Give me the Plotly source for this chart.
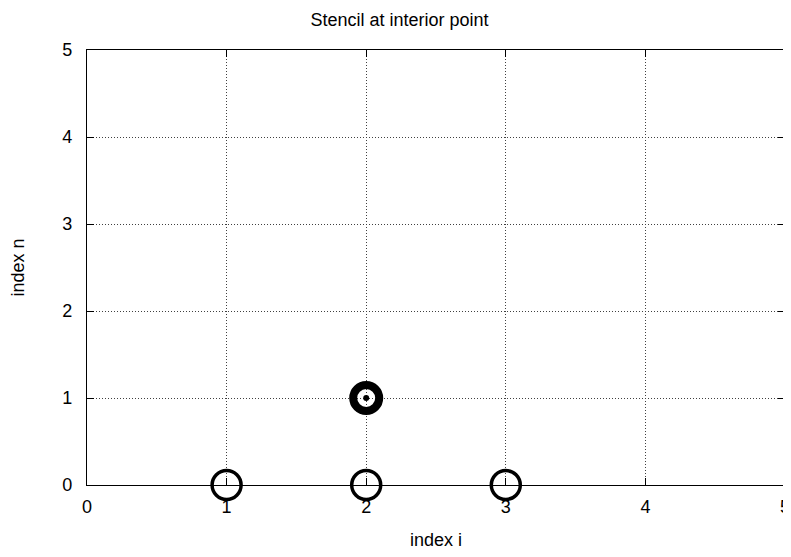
import plotly.graph_objects as go

# stencil points
base_i = [1, 2, 3]
base_n = [0, 0, 0]
center_i = [2]
center_n = [1]

x_ticks = [0, 1, 2, 3, 4, 5]
y_ticks = [0, 1, 2, 3, 4, 5]

FONT = "Liberation Sans, Arial, sans-serif"

fig = go.Figure()
fig.add_trace(go.Scatter(x=base_i, y=base_n, mode="markers",
                         marker=dict(symbol="circle-open", size=29, color="black",
                                     line=dict(width=3.5, color="black")),
                         cliponaxis=False, showlegend=False))
fig.add_trace(go.Scatter(x=center_i, y=center_n, mode="markers",
                         marker=dict(symbol="circle-open", size=26, color="black",
                                     line=dict(width=8, color="black")),
                         cliponaxis=False, showlegend=False))
fig.add_trace(go.Scatter(x=center_i, y=center_n, mode="markers",
                         marker=dict(symbol="circle", size=6, color="black"),
                         cliponaxis=False, showlegend=False))

axis_common = dict(
    showgrid=True, gridcolor="#404040", griddash="1px,2px", gridwidth=1,
    showline=True, linecolor="black", linewidth=1.2, mirror="allticks",
    ticks="inside", ticklen=7, tickcolor="black", tickwidth=1, zeroline=False,
    automargin=False, ticklabeloverflow="allow",
    tickfont=dict(family=FONT, size=18, color="black"),
)
fig.update_xaxes(range=[0, 5], tickvals=x_ticks, ticklabelstandoff=5,
                 title=dict(text="index i", font=dict(family=FONT, size=18, color="black"), standoff=17),
                 **axis_common)
fig.update_yaxes(range=[0, 5], tickvals=y_ticks, ticklabelstandoff=10,
                 title=dict(text="index n", font=dict(family=FONT, size=18, color="black"), standoff=32),
                 **axis_common)
fig.update_layout(
    width=783, height=549,
    margin=dict(l=79, r=6, t=42, b=72),
    plot_bgcolor="white", paper_bgcolor="white",
    title=dict(text="Stencil at interior point", x=0.5, xanchor="center", y=0.978, yanchor="middle",
               font=dict(family=FONT, size=18, color="black")),
)
fig.write_html("out.html")
